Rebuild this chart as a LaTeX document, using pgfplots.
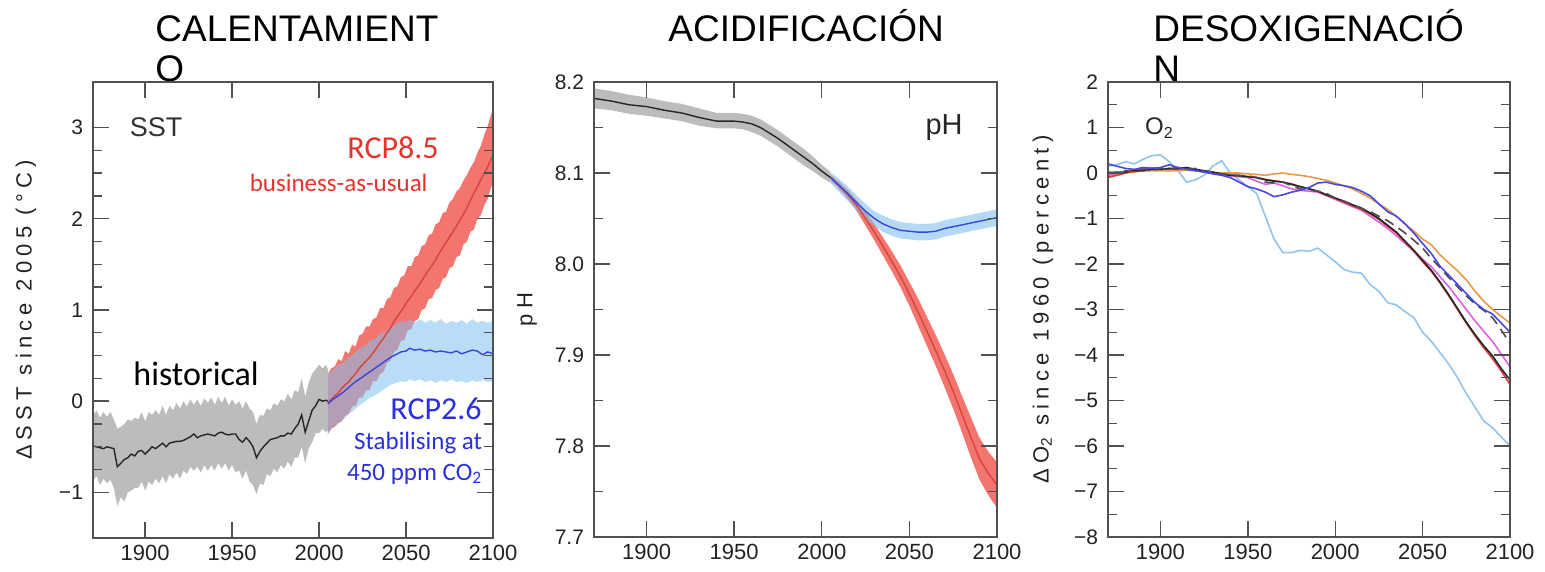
\documentclass[border=0pt]{standalone}
\usepackage{fontspec}
\setmainfont{Liberation Sans}
\newfontfamily\calfont{Carlito}
\newfontfamily\lblfont[LetterSpace=24]{Liberation Sans}
\usepackage{graphicx}
\usepackage{pgfplots}
\usepackage{pgfplotstable}
\usepgfplotslibrary{fillbetween}
\pgfplotsset{compat=1.18}

\definecolor{axgray}{HTML}{505050}
\definecolor{tktext}{HTML}{222222}
\definecolor{histband}{HTML}{BCBCBC}
\definecolor{redband}{HTML}{F2766E}
\definecolor{blueband}{HTML}{80C0F0}
\definecolor{redline}{HTML}{D8443A}
\definecolor{blueline}{HTML}{3C44E0}
\definecolor{redtxt}{HTML}{E8322C}
\definecolor{bluetxt}{HTML}{2A30DC}
\definecolor{olb}{HTML}{90C4EE}
\definecolor{obl}{HTML}{4848E8}
\definecolor{oor}{HTML}{E89A48}
\definecolor{ord}{HTML}{E03A3A}
\definecolor{omg}{HTML}{E060E0}

% ---------------- SST data ----------------
\pgfplotstableread{
x m lo hi
1870 -0.49 -0.88 -0.16
1872 -0.50 -0.82 -0.10
1874 -0.51 -0.92 -0.18
1876 -0.52 -0.85 -0.12
1878 -0.50 -0.90 -0.17
1880 -0.51 -0.86 -0.12
1882 -0.52 -0.95 -0.20
1884 -0.72 -1.15 -0.30
1886 -0.68 -1.05 -0.28
1888 -0.64 -1.10 -0.25
1890 -0.62 -1.00 -0.20
1892 -0.58 -0.98 -0.22
1894 -0.60 -0.95 -0.18
1896 -0.55 -0.95 -0.20
1898 -0.54 -0.88 -0.12
1900 -0.58 -0.98 -0.22
1902 -0.54 -0.88 -0.12
1904 -0.50 -0.92 -0.15
1906 -0.52 -0.85 -0.10
1908 -0.49 -0.90 -0.15
1910 -0.46 -0.82 -0.05
1912 -0.50 -0.90 -0.15
1914 -0.46 -0.80 -0.05
1916 -0.45 -0.85 -0.10
1918 -0.44 -0.78 -0.02
1920 -0.44 -0.85 -0.08
1922 -0.43 -0.76 0.00
1924 -0.41 -0.80 -0.06
1926 -0.39 -0.72 0.02
1928 -0.36 -0.76 -0.04
1930 -0.40 -0.72 0.02
1932 -0.38 -0.78 -0.05
1934 -0.37 -0.70 0.03
1936 -0.36 -0.76 -0.02
1938 -0.37 -0.70 0.04
1940 -0.38 -0.76 -0.04
1942 -0.35 -0.68 0.05
1944 -0.34 -0.74 -0.02
1946 -0.36 -0.68 0.05
1948 -0.37 -0.76 -0.05
1950 -0.36 -0.70 0.02
1952 -0.36 -0.78 -0.04
1954 -0.42 -0.76 0.00
1956 -0.45 -0.85 -0.08
1958 -0.40 -0.76 0.00
1960 -0.44 -0.88 -0.08
1962 -0.50 -0.92 -0.12
1964 -0.62 -1.02 -0.25
1966 -0.55 -0.90 -0.15
1968 -0.50 -0.92 -0.16
1970 -0.46 -0.80 -0.08
1972 -0.42 -0.82 -0.10
1974 -0.41 -0.74 -0.02
1976 -0.40 -0.78 -0.05
1978 -0.38 -0.70 0.02
1980 -0.38 -0.74 0.00
1982 -0.35 -0.66 0.08
1984 -0.36 -0.72 0.02
1986 -0.30 -0.62 0.12
1988 -0.25 -0.62 0.10
1990 -0.15 -0.50 0.25
1992 -0.34 -0.68 0.05
1994 -0.22 -0.52 0.20
1996 -0.10 -0.45 0.30
1998 -0.05 -0.35 0.35
2000 0.02 -0.35 0.40
2002 0.00 -0.30 0.36
2004 0.01 -0.34 0.40
2005 0.00 -0.32 0.35
}\sstHist

\pgfplotstableread{
x m lo hi
2005 -0.02 -0.36 0.30
2007 0.02 -0.30 0.36
2009 0.06 -0.28 0.38
2011 0.09 -0.24 0.46
2013 0.14 -0.22 0.44
2015 0.18 -0.16 0.55
2017 0.21 -0.14 0.52
2019 0.26 -0.06 0.62
2021 0.30 -0.05 0.60
2023 0.36 0.04 0.72
2025 0.40 0.04 0.74
2027 0.44 0.12 0.82
2029 0.48 0.12 0.82
2031 0.53 0.22 0.90
2033 0.58 0.22 0.92
2035 0.64 0.30 1.02
2037 0.69 0.32 1.02
2039 0.75 0.42 1.12
2041 0.80 0.44 1.14
2043 0.87 0.54 1.24
2045 0.93 0.56 1.26
2047 0.98 0.66 1.36
2049 1.04 0.67 1.38
2051 1.10 0.78 1.48
2053 1.15 0.79 1.48
2055 1.21 0.88 1.58
2057 1.26 0.90 1.60
2059 1.32 1.00 1.70
2061 1.38 1.02 1.72
2063 1.44 1.12 1.82
2065 1.49 1.13 1.84
2067 1.55 1.22 1.94
2069 1.62 1.24 1.96
2071 1.68 1.34 2.06
2073 1.74 1.36 2.08
2075 1.80 1.46 2.18
2077 1.86 1.48 2.22
2079 1.92 1.58 2.30
2081 1.99 1.60 2.34
2083 2.05 1.72 2.42
2085 2.12 1.75 2.48
2087 2.20 1.86 2.56
2089 2.28 1.88 2.62
2091 2.35 2.00 2.72
2093 2.43 2.04 2.80
2095 2.50 2.15 2.92
2097 2.57 2.22 3.02
2099 2.66 2.35 3.15
2100 2.70 2.40 3.20
}\sstHigh

\pgfplotstableread{
x m lo hi
2005 -0.03 -0.36 0.30
2008 0.02 -0.28 0.34
2011 0.06 -0.24 0.40
2014 0.10 -0.20 0.42
2017 0.15 -0.14 0.48
2020 0.20 -0.10 0.52
2023 0.24 -0.05 0.58
2026 0.28 -0.01 0.60
2029 0.32 0.04 0.66
2032 0.36 0.06 0.68
2035 0.40 0.10 0.74
2038 0.44 0.14 0.76
2041 0.48 0.18 0.82
2044 0.51 0.20 0.84
2047 0.54 0.22 0.88
2050 0.55 0.21 0.86
2052 0.58 0.24 0.90
2055 0.56 0.22 0.86
2058 0.57 0.24 0.90
2061 0.55 0.21 0.86
2064 0.56 0.23 0.89
2067 0.54 0.20 0.86
2070 0.55 0.23 0.90
2073 0.54 0.21 0.85
2076 0.53 0.24 0.88
2079 0.55 0.21 0.86
2082 0.52 0.22 0.89
2085 0.54 0.20 0.85
2088 0.56 0.23 0.90
2091 0.55 0.21 0.86
2094 0.51 0.23 0.88
2097 0.54 0.21 0.86
2100 0.52 0.22 0.88
}\sstLow

% ---------------- pH data ----------------
\pgfplotstableread{
x m lo hi
1870 8.182 8.171 8.193
1880 8.179 8.169 8.190
1890 8.175 8.165 8.186
1900 8.173 8.163 8.183
1910 8.169 8.160 8.179
1920 8.166 8.157 8.176
1930 8.161 8.152 8.171
1940 8.157 8.149 8.166
1950 8.157 8.149 8.166
1955 8.156 8.148 8.165
1960 8.154 8.145 8.163
1965 8.150 8.141 8.159
1970 8.144 8.135 8.153
1975 8.138 8.129 8.147
1980 8.131 8.122 8.140
1985 8.124 8.115 8.133
1990 8.117 8.108 8.126
1995 8.110 8.102 8.118
2000 8.102 8.095 8.109
2005 8.095 8.089 8.101
}\phHist

\pgfplotstableread{
x m lo hi
2005 8.095 8.089 8.101
2010 8.086 8.079 8.093
2015 8.077 8.069 8.085
2020 8.067 8.059 8.075
2025 8.058 8.050 8.066
2030 8.050 8.042 8.058
2035 8.044 8.035 8.053
2040 8.040 8.031 8.049
2045 8.037 8.028 8.046
2050 8.036 8.027 8.045
2055 8.035 8.026 8.044
2060 8.035 8.026 8.044
2065 8.036 8.027 8.045
2070 8.039 8.030 8.048
2075 8.041 8.032 8.050
2080 8.043 8.034 8.052
2085 8.045 8.036 8.054
2090 8.047 8.038 8.056
2095 8.049 8.040 8.058
2100 8.051 8.042 8.060
}\phLow

\pgfplotstableread{
x m lo hi
2005 8.095 8.092 8.098
2010 8.086 8.082 8.090
2015 8.076 8.071 8.081
2020 8.064 8.058 8.070
2025 8.050 8.042 8.058
2030 8.035 8.026 8.044
2035 8.019 8.009 8.029
2040 8.003 7.992 8.014
2045 7.986 7.974 7.998
2050 7.967 7.954 7.980
2055 7.947 7.932 7.962
2060 7.926 7.910 7.942
2065 7.905 7.888 7.922
2070 7.883 7.865 7.901
2075 7.860 7.841 7.879
2080 7.835 7.815 7.855
2085 7.810 7.788 7.832
2090 7.786 7.763 7.809
2095 7.770 7.746 7.794
2100 7.757 7.732 7.782
}\phHigh

% ---------------- O2 data ----------------
\pgfplotstableread{
x lb bl or bk dk rd mg
1870 0.15 0.20 -0.08 0.00 0.02 -0.10 -0.05
1875 0.18 0.15 -0.05 0.02 0.00 -0.05 -0.02
1880 0.25 0.10 0.00 0.02 0.05 0.00 0.02
1885 0.20 0.08 0.02 0.05 0.03 0.05 0.05
1890 0.30 0.12 0.05 0.05 0.08 0.08 0.10
1895 0.38 0.10 0.05 0.08 0.05 0.10 0.12
1900 0.40 0.12 0.05 0.08 0.10 0.08 0.10
1905 0.25 0.18 0.05 0.10 0.08 0.10 0.08
1910 0.05 0.12 0.05 0.10 0.12 0.08 0.12
1915 -0.20 0.08 0.06 0.12 0.08 0.10 0.10
1920 -0.15 0.05 0.05 0.08 0.10 0.06 0.08
1925 -0.05 0.02 0.02 0.05 0.04 0.03 0.04
1930 0.15 -0.02 0.00 0.02 0.02 0.00 0.02
1935 0.27 -0.05 0.00 -0.02 -0.02 -0.03 -0.05
1940 0.00 -0.10 0.00 -0.05 -0.04 -0.05 -0.06
1945 -0.15 -0.20 0.00 -0.06 -0.05 -0.06 -0.08
1950 -0.30 -0.30 -0.02 -0.08 -0.06 -0.08 -0.10
1955 -0.45 -0.35 -0.03 -0.10 -0.10 -0.10 -0.18
1960 -0.95 -0.42 -0.05 -0.15 -0.20 -0.14 -0.25
1965 -1.45 -0.52 -0.02 -0.18 -0.22 -0.17 -0.22
1970 -1.75 -0.48 0.00 -0.20 -0.20 -0.20 -0.28
1975 -1.75 -0.42 -0.03 -0.25 -0.28 -0.24 -0.35
1980 -1.70 -0.38 -0.05 -0.30 -0.35 -0.30 -0.38
1985 -1.72 -0.32 -0.08 -0.35 -0.38 -0.35 -0.40
1990 -1.65 -0.22 -0.12 -0.40 -0.40 -0.40 -0.42
1995 -1.80 -0.20 -0.16 -0.48 -0.45 -0.48 -0.50
2000 -1.95 -0.25 -0.22 -0.55 -0.55 -0.56 -0.58
2005 -2.12 -0.28 -0.28 -0.62 -0.62 -0.64 -0.66
2010 -2.18 -0.32 -0.35 -0.70 -0.70 -0.72 -0.74
2015 -2.20 -0.40 -0.45 -0.77 -0.78 -0.80 -0.82
2020 -2.45 -0.50 -0.55 -0.88 -0.85 -0.90 -0.95
2025 -2.60 -0.68 -0.68 -1.00 -0.95 -1.02 -1.08
2030 -2.85 -0.85 -0.80 -1.15 -1.05 -1.17 -1.22
2035 -2.90 -0.95 -0.95 -1.30 -1.18 -1.32 -1.38
2040 -3.05 -1.12 -1.12 -1.50 -1.32 -1.52 -1.55
2045 -3.18 -1.32 -1.28 -1.70 -1.48 -1.72 -1.72
2050 -3.50 -1.55 -1.45 -1.92 -1.65 -1.95 -1.90
2055 -3.70 -1.77 -1.58 -2.14 -1.88 -2.16 -2.06
2060 -3.95 -2.05 -1.80 -2.40 -2.08 -2.42 -2.28
2065 -4.20 -2.25 -1.98 -2.68 -2.30 -2.70 -2.50
2070 -4.50 -2.45 -2.15 -2.98 -2.50 -3.00 -2.75
2075 -4.85 -2.65 -2.35 -3.28 -2.70 -3.30 -3.00
2080 -5.15 -2.85 -2.60 -3.55 -2.88 -3.58 -3.25
2085 -5.45 -3.00 -2.82 -3.80 -3.02 -3.84 -3.48
2090 -5.60 -3.10 -3.00 -4.02 -3.18 -4.08 -3.70
2095 -5.80 -3.30 -3.15 -4.30 -3.45 -4.35 -3.98
2100 -6.00 -3.50 -3.30 -4.55 -3.75 -4.65 -4.26
}\oxy

\pgfplotsset{
  panel/.style={
    scale only axis, anchor=south west,
    xmin=1870, xmax=2100,
    xtick={1900,1950,2000,2050,2100},
    xticklabels={1900,1950,2000,2050,2100},
    tick align=inside,
    major tick length=8pt, minor tick length=4.5pt,
    axis line style={draw=axgray, line width=0.7pt},
    tick style={draw=axgray, line width=0.7pt},
    xticklabel style={font=\fontsize{11}{13}\selectfont, text=tktext},
    yticklabel style={font=\fontsize{10.5}{12}\selectfont, text=tktext, xshift=-1.5pt},
    ylabel style={font=\lblfont\fontsize{11}{13}\selectfont, text=tktext, anchor=center},
    axis on top,
  },
}
\tikzset{ttl/.style={font=\fontsize{18.5}{22}\selectfont, anchor=base west, inner sep=0pt, text=black}}

\begin{document}
\begin{tikzpicture}

% ===== Panel 1: SST =====
\begin{axis}[panel,
  at={(46.5pt,17pt)}, width=200pt, height=228pt,
  ymin=-1.5, ymax=3.5,
  ytick={-1,0,1,2,3}, yticklabels={−1,0,1,2,3},
  minor y tick num=3,
  ylabel={ΔSST since 2005 (°C)},
  ylabel style={at={(rel axis cs:-0.1675,0.5)}},
]
\addplot[name path=hhi, draw=none] table[x=x,y=hi] {\sstHigh};
\addplot[name path=hlo, draw=none] table[x=x,y=lo] {\sstHigh};
\addplot[redband, draw=none] fill between[of=hhi and hlo];
\addplot[name path=lhi, draw=none] table[x=x,y=hi] {\sstLow};
\addplot[name path=llo, draw=none] table[x=x,y=lo] {\sstLow};
\addplot[blueband, fill opacity=0.55, draw=none] fill between[of=lhi and llo];
\addplot[name path=ghi, draw=none] table[x=x,y=hi] {\sstHist};
\addplot[name path=glo, draw=none] table[x=x,y=lo] {\sstHist};
\addplot[histband, draw=none] fill between[of=ghi and glo];
\addplot[black!85, line width=0.7pt] table[x=x,y=m] {\sstHist};
\addplot[redline, line width=0.7pt] table[x=x,y=m] {\sstHigh};
\addplot[blueline, line width=0.7pt] table[x=x,y=m] {\sstLow};
\node[anchor=west, inner sep=0pt, text=black!80, font=\fontsize{13.5}{15}\selectfont] at (axis cs:1891,3.0) {SST};
\node[anchor=east, inner sep=0pt, text=redtxt, font=\calfont\fontsize{16}{18}\selectfont] at (axis cs:2069,2.78) {RCP8.5};
\node[anchor=east, inner sep=0pt, text=redtxt, font=\calfont\fontsize{12.5}{14}\selectfont] at (axis cs:2062.6,2.39) {business-as-usual};
\node[anchor=west, inner sep=0pt, text=black, font=\calfont\fontsize{17}{19}\selectfont] at (axis cs:1893,0.30) {historical};
\node[anchor=east, inner sep=0pt, text=bluetxt, font=\calfont\fontsize{16}{18}\selectfont] at (axis cs:2093.7,-0.08) {RCP2.6};
\node[anchor=east, inner sep=0pt, text=bluetxt, font=\calfont\fontsize{12.5}{14}\selectfont] at (axis cs:2094,-0.46) {Stabilising at};
\node[anchor=east, inner sep=0pt, text=bluetxt, font=\calfont\fontsize{12.5}{14}\selectfont] at (axis cs:2094,-0.80) {450 ppm CO\textsubscript{2}};
\end{axis}

% ===== Panel 2: pH =====
\begin{axis}[panel,
  at={(297pt,17.5pt)}, width=201.5pt, height=227.5pt,
  ymin=7.7, ymax=8.2,
  ytick={7.7,7.8,7.9,8.0,8.1,8.2}, yticklabels={7.7,7.8,7.9,8.0,8.1,8.2},
  minor y tick num=1,
  ylabel={pH},
  ylabel style={at={(rel axis cs:-0.166,0.5)}},
]
\addplot[name path=rhi, draw=none] table[x=x,y=hi] {\phHigh};
\addplot[name path=rlo, draw=none] table[x=x,y=lo] {\phHigh};
\addplot[redband, draw=none] fill between[of=rhi and rlo];
\addplot[name path=bhi, draw=none] table[x=x,y=hi] {\phLow};
\addplot[name path=blo, draw=none] table[x=x,y=lo] {\phLow};
\addplot[blueband, fill opacity=0.6, draw=none] fill between[of=bhi and blo];
\addplot[name path=khi, draw=none] table[x=x,y=hi] {\phHist};
\addplot[name path=klo, draw=none] table[x=x,y=lo] {\phHist};
\addplot[histband, draw=none] fill between[of=khi and klo];
\addplot[black!85, line width=0.7pt] table[x=x,y=m] {\phHist};
\addplot[redline, line width=0.7pt] table[x=x,y=m] {\phHigh};
\addplot[blueline, line width=0.7pt] table[x=x,y=m] {\phLow};
\node[anchor=west, inner sep=0pt, text=black!85, font=\fontsize{14.5}{16}\selectfont] at (axis cs:2059,8.15) {pH};
\end{axis}

% ===== Panel 3: O2 =====
\begin{axis}[panel,
  at={(554pt,17.5pt)}, width=201pt, height=227.5pt,
  ymin=-8, ymax=2,
  ytick={-8,-7,-6,-5,-4,-3,-2,-1,0,1,2},
  yticklabels={−8,−7,−6,−5,−4,−3,−2,−1,0,1,2},
  minor y tick num=1,
  ylabel={ΔO\textsubscript{2} since 1960 (percent)},
  ylabel style={at={(rel axis cs:-0.162,0.5)}},
]
\addplot[olb, line width=0.8pt] table[x=x,y=lb] {\oxy};
\addplot[oor, line width=0.8pt] table[x=x,y=or] {\oxy};
\addplot[omg, line width=0.8pt] table[x=x,y=mg] {\oxy};
\addplot[ord, line width=0.8pt] table[x=x,y=rd] {\oxy};
\addplot[black!85, line width=0.8pt] table[x=x,y=bk] {\oxy};
\addplot[black!70, line width=0.8pt, dash pattern=on 5pt off 3pt] table[x=x,y=dk] {\oxy};
\addplot[obl, line width=0.8pt] table[x=x,y=bl] {\oxy};
\node[anchor=west, inner sep=0pt, text=black!85, font=\fontsize{12}{14}\selectfont] at (axis cs:1891,0.99) {O\textsubscript{2}};
\end{axis}

% ===== Titles =====
\node[ttl] at (77.5pt,265pt) {CALENTAMIENT};
\node[ttl] at (77.5pt,245pt) {O};
\node[ttl] at (334pt,265pt) {ACIDIFICACIÓN};
\node[ttl] at (576.5pt,265pt) {DESOXIGENACIÓ};
\node[ttl] at (576.5pt,245pt) {N};

\pgfresetboundingbox
\path[use as bounding box] (0,0) rectangle (772.5pt,286pt);
\end{tikzpicture}
\end{document}
